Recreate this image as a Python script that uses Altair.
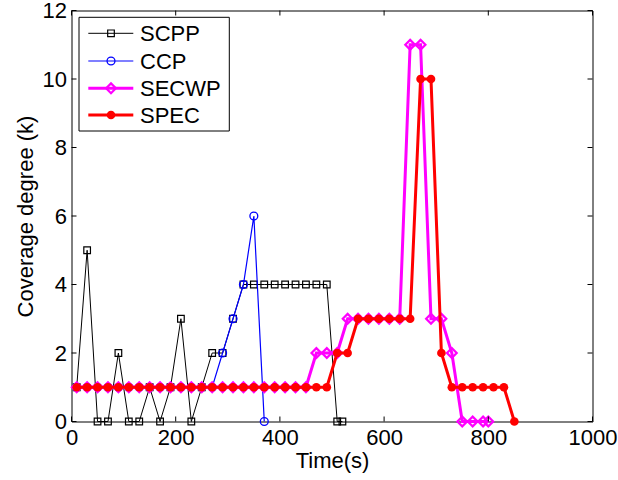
import altair as alt
import pandas as pd

# ---------------- data ----------------
names = ["SCPP", "CCP", "SECWP", "SPEC"]

t_scpp = [10, 30, 50, 70, 90, 110, 130, 150, 170, 190, 210, 230, 250, 270, 290,
          310, 330, 350, 370, 390, 410, 430, 450, 470, 490, 510, 520]
k_scpp = [1, 5, 0, 0, 2, 0, 0, 1, 0, 1, 3, 0, 1, 2, 2,
          3, 4, 4, 4, 4, 4, 4, 4, 4, 4, 0, 0]

t_ccp = [10, 30, 50, 70, 90, 110, 130, 150, 170, 190, 210, 230, 250, 270,
         290, 310, 330, 350, 370]
k_ccp = [1, 1, 1, 1, 1, 1, 1, 1, 1, 1, 1, 1, 1, 1,
         2, 3, 4, 6, 0]

t_secwp = [10, 30, 50, 70, 90, 110, 130, 150, 170, 190, 210, 230, 250, 270, 290,
           310, 330, 350, 370, 390, 410, 430, 450, 470, 490, 510, 530, 550, 570,
           590, 610, 630, 650, 670, 690, 710, 730, 750, 770, 790, 800]
k_secwp = [1, 1, 1, 1, 1, 1, 1, 1, 1, 1, 1, 1, 1, 1, 1,
           1, 1, 1, 1, 1, 1, 1, 1, 2, 2, 2, 3, 3, 3,
           3, 3, 3, 11, 11, 3, 3, 2, 0, 0, 0, 0]

t_spec = [10, 30, 50, 70, 90, 110, 130, 150, 170, 190, 210, 230, 250, 270, 290,
          310, 330, 350, 370, 390, 410, 430, 450, 470, 490, 510, 530, 550, 570,
          590, 610, 630, 650, 670, 690, 710, 730, 750, 770, 790, 810, 830, 850]
k_spec = [1, 1, 1, 1, 1, 1, 1, 1, 1, 1, 1, 1, 1, 1, 1,
          1, 1, 1, 1, 1, 1, 1, 1, 1, 1, 2, 2, 3, 3,
          3, 3, 3, 3, 10, 10, 2, 1, 1, 1, 1, 1, 1, 0]

x_ticks = [0, 200, 400, 600, 800, 1000]
y_ticks = [0, 2, 4, 6, 8, 10, 12]

# ---------------- styling ----------------
W, H = 521, 411
FONT = "Liberation Sans"
FS = 22

styles = {
    "SCPP":  dict(color="#000000", lw=1, shape="square",  size=44, filled=False, mw=1.2),
    "CCP":   dict(color="#0000FF", lw=1.2, shape="circle", size=62, filled=False, mw=1.3),
    "SECWP": dict(color="#FF00FF", lw=3, shape="diamond", size=95, filled=False, mw=2.2),
    "SPEC":  dict(color="#FF0000", lw=3, shape="circle",  size=75, filled=True,  mw=1),
}
series = [(names[0], t_scpp, k_scpp), (names[1], t_ccp, k_ccp),
          (names[2], t_secwp, k_secwp), (names[3], t_spec, k_spec)]

xs = alt.Scale(domain=[0, 1000], nice=False, zero=False)
ys = alt.Scale(domain=[0, 12], nice=False, zero=False)
xaxis = alt.Axis(values=x_ticks, ticks=False, tickSize=0, domain=False, grid=False,
                 labelFlush=False, labelOverlap=False, labelPadding=6,
                 titlePadding=2, format="d")
yaxis = alt.Axis(values=y_ticks, ticks=False, tickSize=0, domain=False, grid=False,
                 labelOverlap=False, labelPadding=5, titlePadding=5, format="d")


def X(field):
    return alt.X(field, type="quantitative", scale=xs, axis=xaxis, title="Time(s)")


def Y(field):
    return alt.Y(field, type="quantitative", scale=ys, axis=yaxis,
                 title="Coverage degree (k)")


layers = []
for name, t, k in series:
    st = styles[name]
    df = pd.DataFrame({"t": t, "k": k})
    base = alt.Chart(df)
    layers.append(base.mark_line(color=st["color"], strokeWidth=st["lw"])
                  .encode(x=X("t"), y=Y("k")))
    layers.append(base.mark_point(shape=st["shape"], size=st["size"], filled=st["filled"],
                                  color=st["color"], strokeWidth=st["mw"], opacity=1)
                  .encode(x=X("t"), y=Y("k")))

# inward ticks on all four sides (MATLAB style)
xt = pd.DataFrame({"v": x_ticks})
yt = pd.DataFrame({"v": y_ticks})
TL = 5
layers.append(alt.Chart(xt).mark_rule(color="black", strokeWidth=1)
              .encode(x=X("v"), y=alt.value(H), y2=alt.value(H - TL)))
layers.append(alt.Chart(xt).mark_rule(color="black", strokeWidth=1)
              .encode(x=X("v"), y=alt.value(0), y2=alt.value(TL)))
layers.append(alt.Chart(yt).mark_rule(color="black", strokeWidth=1)
              .encode(y=Y("v"), x=alt.value(0), x2=alt.value(TL)))
layers.append(alt.Chart(yt).mark_rule(color="black", strokeWidth=1)
              .encode(y=Y("v"), x=alt.value(W), x2=alt.value(W - TL)))

# legend box (upper left, inside the axes)
layers.append(alt.Chart(pd.DataFrame({"a": [0]}))
              .mark_rect(fill="white", stroke="black", strokeWidth=1)
              .encode(x=alt.value(7.5), x2=alt.value(157.8),
                      y=alt.value(6.8), y2=alt.value(120.5)))
row_y = [22.8, 50.5, 77.8, 104.5]
for name, ry in zip(names, row_y):
    st = styles[name]
    one = pd.DataFrame({"label": [name]})
    layers.append(alt.Chart(one).mark_rule(color=st["color"], strokeWidth=st["lw"])
                  .encode(x=alt.value(16.8), x2=alt.value(61.8), y=alt.value(ry)))
    layers.append(alt.Chart(one).mark_point(shape=st["shape"], size=st["size"],
                                            filled=st["filled"], color=st["color"],
                                            strokeWidth=st["mw"], opacity=1)
                  .encode(x=alt.value(39.5), y=alt.value(ry)))
    layers.append(alt.Chart(one).mark_text(align="left", baseline="middle", font=FONT,
                                           fontSize=FS, color="black")
                  .encode(x=alt.value(68.5), y=alt.value(ry + 1), text="label:N"))

chart = alt.layer(*layers).properties(
    width=W, height=H,
    autosize=alt.AutoSizeParams(type="none"),
    padding={"left": 71.5, "top": 10.5, "right": 618 - 71.5 - W, "bottom": 480 - 10.5 - H},
    background="white",
).configure_view(stroke="black", strokeWidth=1).configure_axis(
    labelFont=FONT, labelFontSize=FS, labelColor="black",
    titleFont=FONT, titleFontSize=FS, titleColor="black", titleFontWeight="normal",
)

chart.save("out.html", embed_options={"renderer": "svg", "actions": False})
